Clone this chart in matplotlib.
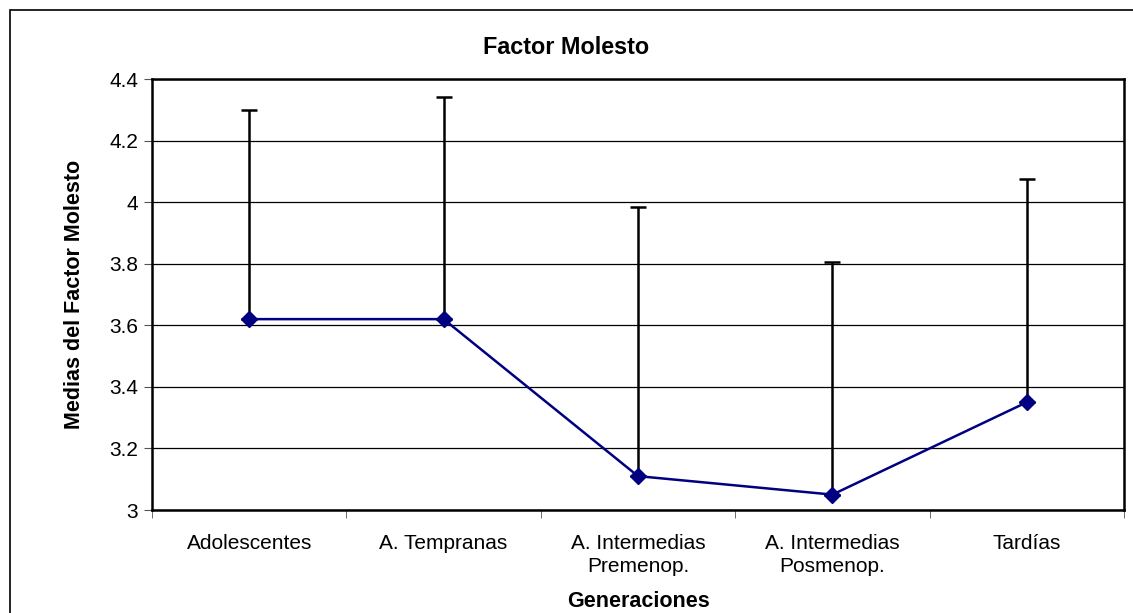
import matplotlib
matplotlib.use("Agg")
import matplotlib.pyplot as plt
from matplotlib.patches import Rectangle

plt.rcParams['font.family'] = ['Liberation Sans', 'DejaVu Sans']

categories = ['Adolescentes', 'A. Tempranas', 'A. Intermedias\nPremenop.',
              'A. Intermedias\nPosmenop.', 'Tardías']
medias = [3.62, 3.62, 3.11, 3.05, 3.35]
limite_sup = [4.30, 4.34, 3.985, 3.805, 4.075]
y_ticks = [3, 3.2, 3.4, 3.6, 3.8, 4, 4.2, 4.4]
y_tick_labels = ['3', '3.2', '3.4', '3.6', '3.8', '4', '4.2', '4.4']

W, H = 1133, 613
fig = plt.figure(figsize=(W / 100, H / 100), dpi=100)
ax = fig.add_axes([152 / W, 1 - 510 / H, (1124 - 152) / W, (510 - 79) / H])

# outer chart frame (only top and left edges visible)
fig.patches.append(Rectangle((10 / W, -0.1), 1.2, 1 - 10 / H + 0.1,
                             transform=fig.transFigure, fill=False,
                             edgecolor='black', linewidth=1.2))

x = list(range(len(categories)))
err_up = [s - m for s, m in zip(limite_sup, medias)]
ax.errorbar(x, medias, yerr=[[0] * len(x), err_up], fmt='none',
            ecolor='black', elinewidth=1.8, capsize=5.8, capthick=1.8, zorder=3)
ax.plot(x, medias, color='#000080', linewidth=1.8, marker='D',
        markersize=8.5, markerfacecolor='#000080', markeredgecolor='#000080', zorder=4)

ax.set_xlim(-0.5, len(categories) - 0.5)
ax.set_ylim(3, 4.4)
ax.set_yticks(y_ticks)
ax.set_yticklabels(y_tick_labels, fontsize=15)
ax.yaxis.grid(True, color='black', linewidth=0.9)
ax.set_axisbelow(True)

ax.set_xticks(x)
ax.set_xticklabels(categories, fontsize=15, linespacing=1.3)
ax.set_xticks([i - 0.5 for i in range(len(categories) + 1)], minor=True)
ax.tick_params(axis='x', which='major', length=0, pad=17)
ax.tick_params(axis='x', which='minor', length=6, direction='out', color='#555555')
ax.tick_params(axis='y', length=6, direction='out', color='#555555', pad=4)

for sp in ax.spines.values():
    sp.set_linewidth(1.8)
    sp.set_color('black')

fig.text(0.5, 1 - 47 / H, 'Factor Molesto', fontsize=16.8, fontweight='bold',
         ha='center', va='center')
ax.set_ylabel('Medias del Factor Molesto', fontsize=15.5, fontweight='bold', labelpad=17)
ax.set_xlabel('Generaciones', fontsize=15.5, fontweight='bold', labelpad=11)

fig.savefig('out.png', dpi=100)
